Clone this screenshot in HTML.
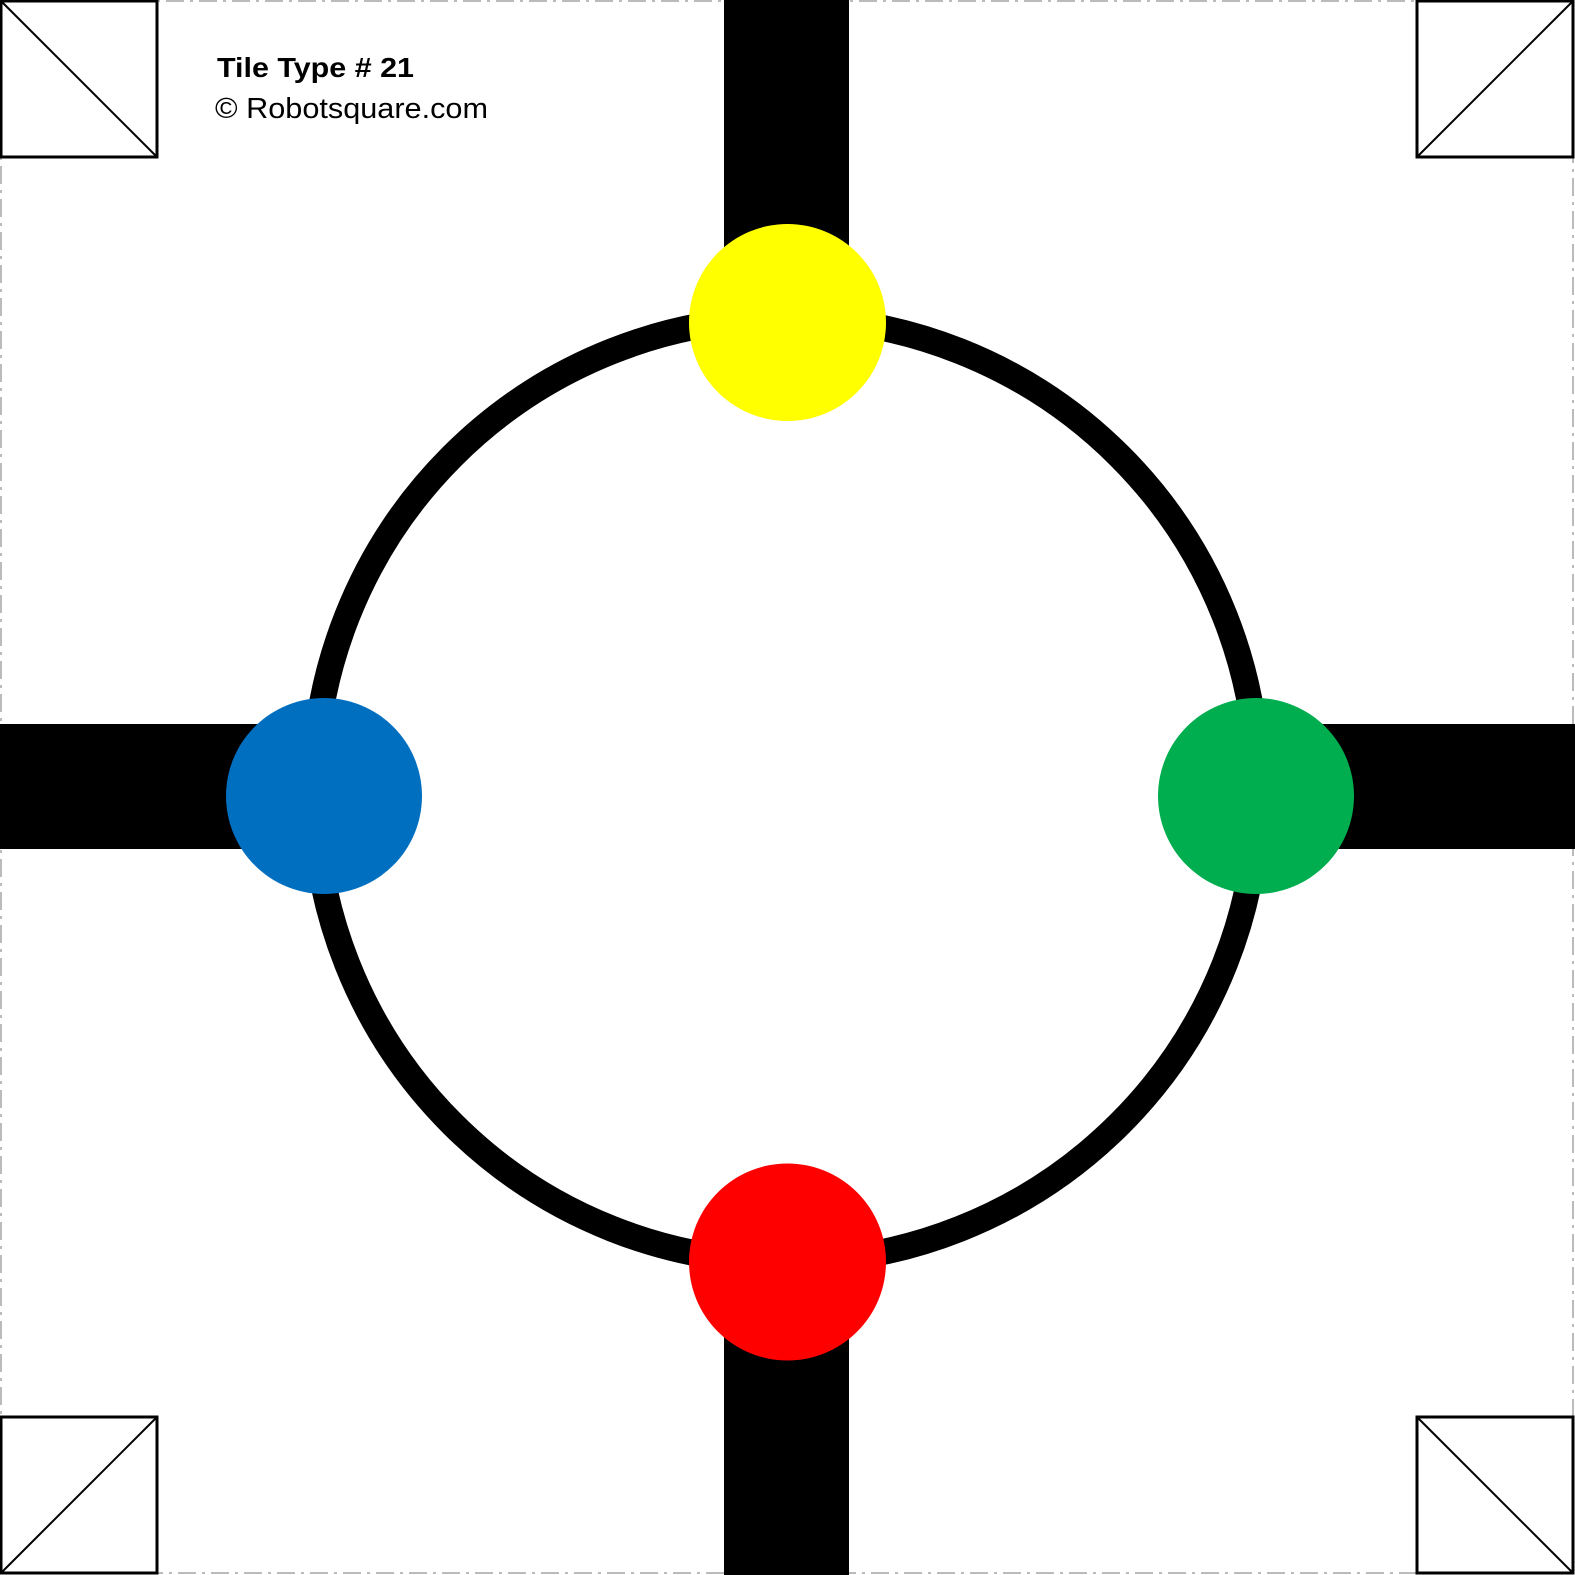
<!DOCTYPE html>
<html><head><meta charset="utf-8"><style>html,body{margin:0;padding:0;background:#fff}svg{display:block}</style></head>
<body>
<svg width="1575" height="1575" viewBox="0 0 1575 1575">
<rect x="1" y="1" width="1572" height="1572" fill="#fff" stroke="#bbb" stroke-width="2" stroke-dasharray="18,6,3,6"/>
<rect x="724" y="0" width="125" height="1575" fill="#000"/>
<rect x="0" y="724" width="1575" height="125" fill="#000"/>
<ellipse cx="786" cy="790" rx="472" ry="472" fill="#fff" stroke="#000" stroke-width="26"/>
<circle cx="787.5" cy="322.5" r="98.5" fill="#ffff00"/>
<circle cx="1256" cy="796" r="98" fill="#00ae50"/>
<circle cx="324" cy="796" r="98" fill="#006fc0"/>
<circle cx="787.5" cy="1262" r="98.5" fill="#ff0000"/>
<g fill="#fff" stroke="#000">
<rect x="1" y="1" width="156" height="156" stroke-width="3"/>
<line x1="1" y1="1" x2="157" y2="157" stroke-width="2"/>
<rect x="1417" y="1" width="156" height="156" stroke-width="3"/>
<line x1="1417" y1="157" x2="1573" y2="1" stroke-width="2"/>
<rect x="1" y="1417" width="156" height="156" stroke-width="3"/>
<line x1="1" y1="1573" x2="157" y2="1417" stroke-width="2"/>
<rect x="1417" y="1417" width="156" height="156" stroke-width="3"/>
<line x1="1417" y1="1417" x2="1573" y2="1573" stroke-width="2"/>
</g>
<text x="217" y="77" font-family="Liberation Sans, sans-serif" font-weight="bold" font-size="28" textLength="197" lengthAdjust="spacingAndGlyphs">Tile Type # 21</text>
<text x="215" y="118" font-family="Liberation Sans, sans-serif" font-size="29" textLength="273" lengthAdjust="spacingAndGlyphs">© Robotsquare.com</text>
</svg>
</body></html>
